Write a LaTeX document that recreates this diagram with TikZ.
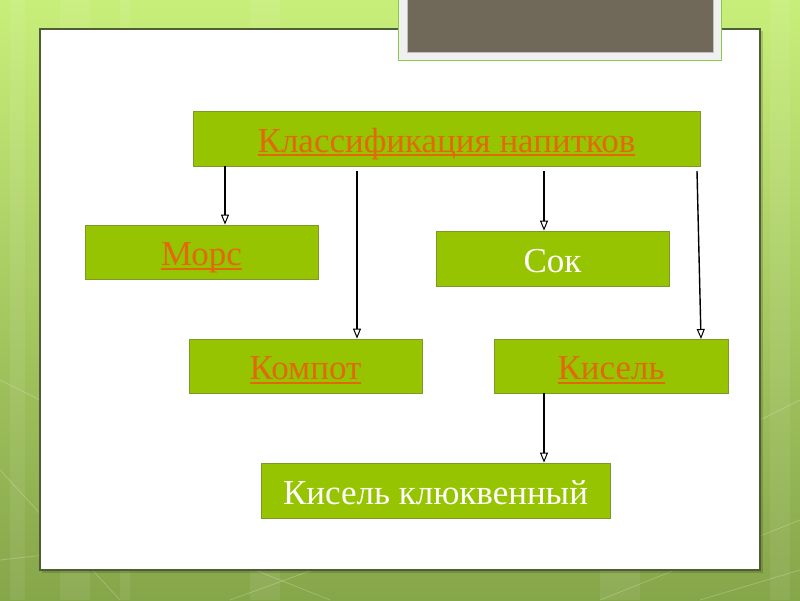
\documentclass[tikz,border=0pt]{standalone}
\usepackage{fontspec}
\setmainfont{Liberation Serif}
\usetikzlibrary{arrows.meta}
\definecolor{boxgreen}{HTML}{96C400}
\definecolor{boxedge}{HTML}{7A9A2A}
\definecolor{linkor}{HTML}{E2690A}
\definecolor{bgtop}{HTML}{C8EE7A}
\definecolor{bgbot}{HTML}{86A64A}
\definecolor{paneledge}{HTML}{4E5E34}
\definecolor{darkrect}{HTML}{706858}
\definecolor{frameedge}{HTML}{8CC84B}
\tikzset{
  box/.style={draw=boxedge, fill=boxgreen, line width=0.8pt, inner sep=0pt,
    font=\fontsize{35}{38}\selectfont, text height=27pt, text depth=0pt},
  whitetext/.style={text=white},
  arr/.style={draw=black, line width=1.4pt, -{Triangle[open,length=10pt,width=8pt,line width=1pt]}},
  stripe/.style={white, opacity=0.07},
  faint/.style={white, opacity=0.22, line width=0.8pt}
}
\newcommand{\lnk}[1]{\textcolor{linkor}{\setbox0\hbox{#1}\rlap{\rule[-4pt]{\wd0}{2pt}}\box0}}
\begin{document}
\begin{tikzpicture}[x=1pt,y=-1pt]
\useasboundingbox (0,0) rectangle (800,600);
% background
\shade[top color=bgtop, bottom color=bgbot] (0,0) rectangle (800,600);
\fill[stripe] (10,0) rectangle (25,600);
\fill[stripe] (60,0) rectangle (90,600);
\fill[stripe] (120,0) rectangle (130,600);
\fill[stripe] (770,0) rectangle (790,600);
\fill[stripe] (600,0) rectangle (640,600);
\fill[stripe] (250,0) rectangle (280,600);
\draw[faint] (0,470) -- (120,600);
\draw[faint] (0,560) -- (180,540) -- (330,600);
\draw[faint] (230,600) -- (340,560);
\draw[faint] (600,600) -- (800,520);
\draw[faint] (700,600) -- (800,570);
\draw[faint] (760,420) -- (800,400);
\draw[faint] (0,380) -- (40,400);
% panel
\fill[black, opacity=0.15] (42,31) rectangle (763,573);
\node[draw=paneledge, line width=1.2pt, fill=white, inner sep=0pt, minimum width=720pt, minimum height=541pt] (panel) at (400,299.5) {};
% dark title rectangle
\node[draw=frameedge, line width=1pt, fill=white!94!black, inner sep=0pt, minimum width=323pt, minimum height=62pt] (frame) at (560,29) {};
\node[fill=darkrect, draw=white!75!black, line width=0.6pt, inner sep=0pt, minimum width=306pt, minimum height=54pt] (title) at (560,25) {};
% boxes
\node[box, minimum width=507pt, minimum height=55pt] (top) at (446.5,138.5) {\lnk{Классификация напитков}};
\node[box, minimum width=233pt, minimum height=54pt] (mors) at (201.5,252) {\lnk{Морс}};
\node[box, minimum width=233pt, minimum height=55pt, whitetext] (sok) at (552.5,258.5) {Сок};
\node[box, minimum width=233pt, minimum height=54pt] (kompot) at (305.5,366) {\lnk{Компот}};
\node[box, minimum width=234pt, minimum height=54pt] (kisel) at (611,366) {\lnk{Кисель}};
\node[box, minimum width=349pt, minimum height=55pt, whitetext] (klukv) at (435.5,490.5) {Кисель клюквенный};
% connectors
\coordinate (s1) at (225,166);
\coordinate (s2) at (357,171);
\coordinate (s3) at (544,171);
\coordinate (s4) at (697,171);
\coordinate (e4) at (701,339);
\coordinate (s5) at (544,393);
\draw[arr] (s1) -- (s1 |- mors.north);
\draw[arr] (s2) -- (s2 |- kompot.north);
\draw[arr] (s3) -- (s3 |- sok.north);
\draw[arr] (s4) -- (e4);
\draw[arr] (s5) -- (s5 |- klukv.north);
\end{tikzpicture}
\end{document}
